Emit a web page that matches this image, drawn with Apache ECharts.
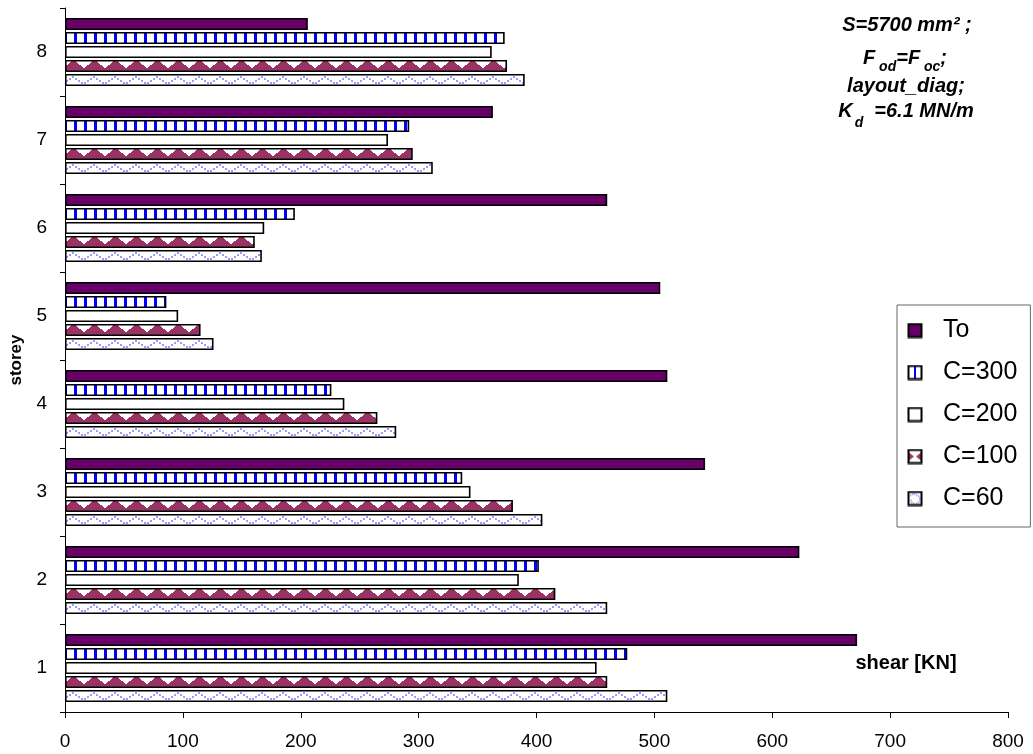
<!DOCTYPE html>
<html>
<head>
<meta charset="utf-8">
<script src="https://cdn.jsdelivr.net/npm/echarts@6/dist/echarts.min.js"></script>
<style>
html,body{margin:0;padding:0;background:#fff;}
#chart{width:1033px;height:754px;}
</style>
</head>
<body>
<div id="chart"></div>
<script>
// ---- data ----
const storeys = ['1','2','3','4','5','6','7','8'];
const seriesNames = ['To','C=300','C=200','C=100','C=60'];
const valTo   = [672, 623, 543, 511, 505, 460, 363, 206];
const valC300 = [477, 402, 337, 226,  86, 195, 292, 373];
const valC200 = [451, 385, 344, 237,  96, 169, 274, 362];
const valC100 = [460, 416, 380, 265, 115, 161, 295, 375];
const valC60  = [511, 460, 405, 281, 126, 167, 312, 390];
const xTicks = {min: 0, max: 800, interval: 100};

// ---- patterns ----
const BAND = 88;
function makeTile(w, h, draw) {
  const c = document.createElement('canvas');
  c.width = w; c.height = h;
  const ctx = c.getContext('2d');
  ctx.fillStyle = '#ffffff';
  ctx.fillRect(0, 0, w, h);
  draw(ctx);
  return c;
}
const tileC300 = makeTile(10, BAND, ctx => {
  ctx.fillStyle = '#0000ff';
  ctx.fillRect(4, 0, 3, BAND);
});
const tileC100 = makeTile(21, BAND, ctx => {
  const T = 60;
  ctx.fillStyle = '#993366';
  for (let r = 0; r < 8; r++) {
    const hw = Math.round(1.5 + r * 1.25);
    ctx.fillRect(10 - hw, T + 1 + r, 2 * hw + 1, 1);
  }
  ctx.fillRect(0, T + 9, 21, 3);
});
const tileC60 = makeTile(21, BAND, ctx => {
  const T = 74;
  ctx.fillStyle = '#9999ff';
  for (let x = 0; x < 21; x += 3) {
    const y = T + 9 - 7 * (1 - Math.abs(x + 1 - 10.5) / 10.5);
    ctx.fillRect(x, Math.round(y), 2, 2);
  }
});
function pat(c) { return {image: c, repeat: 'repeat'}; }

// ---- legend icons ----
function icon(draw) {
  const c = document.createElement('canvas');
  c.width = 16; c.height = 16;
  const ctx = c.getContext('2d');
  ctx.fillStyle = '#ffffff';
  ctx.fillRect(1, 1, 14, 14);
  draw(ctx);
  ctx.strokeStyle = '#000';
  ctx.lineWidth = 2;
  ctx.strokeRect(1.5, 1.5, 13, 13);
  return 'image://' + c.toDataURL();
}
const iconTo = icon(ctx => { ctx.fillStyle = '#660066'; ctx.fillRect(1, 1, 14, 14); });
const iconC300 = icon(ctx => { ctx.fillStyle = '#0000ff'; ctx.fillRect(7, 2, 2, 12); });
const iconC200 = icon(ctx => {});
const iconC100 = icon(ctx => {
  ctx.fillStyle = '#993366';
  ctx.beginPath(); ctx.moveTo(2, 4); ctx.lineTo(7, 8); ctx.lineTo(2, 12); ctx.closePath(); ctx.fill();
  ctx.beginPath(); ctx.moveTo(14, 4); ctx.lineTo(9, 8); ctx.lineTo(14, 12); ctx.closePath(); ctx.fill();
});
const iconC60 = icon(ctx => {
  ctx.fillStyle = '#9999ff';
  [[3,4],[5,3],[7,3],[9,4],[11,5],[12,7],[12,9],[11,11],[9,12],[6,12],[4,11],[3,9]].forEach(p => ctx.fillRect(p[0], p[1], 1.5, 1.5));
});

const FONT = '"Liberation Sans", Arial, sans-serif';
const fills = ['#660066', pat(tileC300), '#ffffff', pat(tileC100), pat(tileC60)];
const values = [valTo, valC300, valC200, valC100, valC60];
const icons = [iconTo, iconC300, iconC200, iconC100, iconC60];

const chart = echarts.init(document.getElementById('chart'), null, {renderer: 'canvas'});
const option = {
  animation: false,
  backgroundColor: '#ffffff',
  grid: {left: 65, right: 25, top: 8, height: 704, containLabel: false, outerBoundsMode: 'none'},
  xAxis: {
    type: 'value', min: xTicks.min, max: xTicks.max, interval: xTicks.interval,
    splitLine: {show: false},
    axisLine: {show: true, lineStyle: {color: '#000', width: 1}},
    axisTick: {show: true, length: 6, lineStyle: {color: '#000'}},
    axisLabel: {color: '#000', fontFamily: FONT, fontSize: 19, margin: 20}
  },
  yAxis: {
    type: 'category', data: storeys,
    name: 'storey', nameLocation: 'middle', nameRotate: 90, nameGap: 40,
    nameTextStyle: {color: '#000', fontFamily: FONT, fontSize: 17, fontWeight: 'bold'},
    axisLine: {show: true, lineStyle: {color: '#000', width: 1}},
    axisTick: {show: true, length: 5, lineStyle: {color: '#000'}},
    axisLabel: {color: '#000', fontFamily: FONT, fontSize: 19, margin: 18}
  },
  legend: {
    orient: 'vertical', left: 897, top: 305,
    padding: [13, 13, 16, 10],
    backgroundColor: '#fff', borderColor: '#666', borderWidth: 1, borderRadius: 0,
    itemWidth: 16, itemHeight: 16, itemGap: 17,
    textStyle: {color: '#000', fontFamily: FONT, fontSize: 25, lineHeight: 20, padding: [0, 0, 0, 15]},
    data: seriesNames.map((n, i) => ({name: n, icon: icons[i]}))
  },
  graphic: [
    {type: 'text', x: 907, y: 15, style: {text: 'S=5700 mm² ;', align: 'center', verticalAlign: 'top', font: 'italic bold 20px ' + FONT, fill: '#000'}},
    {type: 'text', x: 905, y: 48, style: {
      text: '{m|F}{s| od}{m|=F}{s| oc}{m|;}', align: 'center', verticalAlign: 'top',
      rich: {
        m: {fontFamily: FONT, fontStyle: 'italic', fontWeight: 'bold', fontSize: 20, lineHeight: 20, verticalAlign: 'top', color: '#000'},
        s: {fontFamily: FONT, fontStyle: 'italic', fontWeight: 'bold', fontSize: 14, lineHeight: 14, verticalAlign: 'top', padding: [12, 0, 0, 0], color: '#000'}
      }}},
    {type: 'text', x: 906, y: 76, style: {text: 'layout_diag;', align: 'center', verticalAlign: 'top', font: 'italic bold 20px ' + FONT, fill: '#000'}},
    {type: 'text', x: 906, y: 101, style: {
      text: '{m|K}{s|d}{m|  =6.1 MN/m}', align: 'center', verticalAlign: 'top',
      rich: {
        m: {fontFamily: FONT, fontStyle: 'italic', fontWeight: 'bold', fontSize: 20, lineHeight: 20, verticalAlign: 'top', color: '#000'},
        s: {fontFamily: FONT, fontStyle: 'italic', fontWeight: 'bold', fontSize: 14, lineHeight: 14, verticalAlign: 'top', padding: [15, 0, 0, 2], color: '#000'}
      }}},
    {type: 'text', x: 906, y: 663, style: {text: 'shear [KN]', align: 'center', verticalAlign: 'middle', font: 'bold 20px ' + FONT, fill: '#000'}}
  ],
  series: seriesNames.map((n, i) => ({
    name: n, type: 'bar', data: values[i],
    barWidth: 12, barGap: '16.6667%',
    itemStyle: {color: fills[i], borderColor: '#000', borderWidth: 1.6},
    emphasis: {disabled: true}
  }))
};
chart.setOption(option);
</script>
</body>
</html>
